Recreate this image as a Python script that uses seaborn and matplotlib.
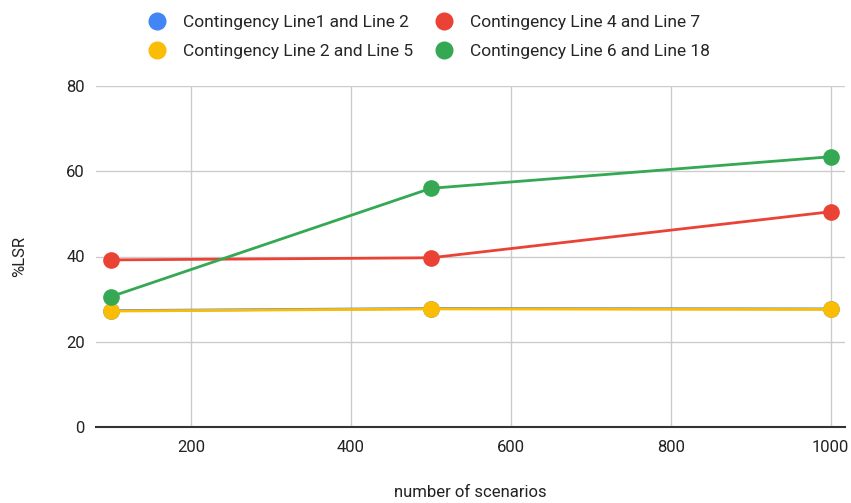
import matplotlib
matplotlib.use("Agg")
import matplotlib.pyplot as plt
import seaborn as sns
import pandas as pd

# Data
scenarios = [100, 500, 1000]
series_names = [
    "Contingency Line1 and Line 2",
    "Contingency Line 4 and Line 7",
    "Contingency Line 2 and Line 5",
    "Contingency Line 6 and Line 18",
]
line1_line2 = [27.3, 27.8, 27.7]
line4_line7 = [39.2, 39.7, 50.5]
line2_line5 = [27.2, 27.7, 27.6]
line6_line18 = [30.6, 56.0, 63.4]
colors = ["#4285F4", "#EA4335", "#FBBC04", "#34A853"]

rows = []
for name, vals in zip(series_names, [line1_line2, line4_line7, line2_line5, line6_line18]):
    for x, v in zip(scenarios, vals):
        rows.append({"scenarios": x, "LSR": v, "series": name})
df = pd.DataFrame(rows)

sns.set_theme(style="white")
plt.rcParams["font.family"] = ["Roboto", "DejaVu Sans"]

fig = plt.figure(figsize=(8.51, 5.03), dpi=100)
ax = fig.add_axes([96 / 851, 1 - 427 / 503, (845 - 96) / 851, (427 - 86) / 503])

sns.lineplot(
    data=df, x="scenarios", y="LSR", hue="series", hue_order=series_names,
    palette=colors, marker="o", markersize=12, markeredgewidth=0,
    linewidth=2, ax=ax, legend=False,
)

ax.set_xlim(81, 1018)
ax.set_ylim(0, 80)
ax.set_xticks([200, 400, 600, 800, 1000])
ax.set_yticks([0, 20, 40, 60, 80])
ax.grid(True, color="#cccccc", linewidth=1)
ax.set_axisbelow(True)
for side in ["top", "right", "left"]:
    ax.spines[side].set_visible(False)
ax.spines["bottom"].set_color("#333333")
ax.spines["bottom"].set_linewidth(1.5)
ax.tick_params(axis="both", length=0, labelsize=12, colors="#222222", pad=8)
ax.tick_params(axis="x", pad=9)
ax.set_xlabel("number of scenarios", fontsize=12, color="#222222", labelpad=22)
ax.set_ylabel("%LSR", fontsize=12, color="#222222", labelpad=28)

# Legend: two rows, two columns
handles = [
    plt.Line2D([], [], marker="o", linestyle="", markersize=13, markeredgewidth=0, color=c)
    for c in colors
]
order = [0, 2, 1, 3]
fig.legend(
    [handles[i] for i in order], [series_names[i] for i in order],
    loc="upper center", bbox_to_anchor=(425 / 851, 0.995), ncol=2, frameon=False,
    fontsize=12.5, handletextpad=0.5, columnspacing=0.8, labelspacing=0.8,
    borderaxespad=0.3,
)

fig.savefig("out.png", dpi=100)
